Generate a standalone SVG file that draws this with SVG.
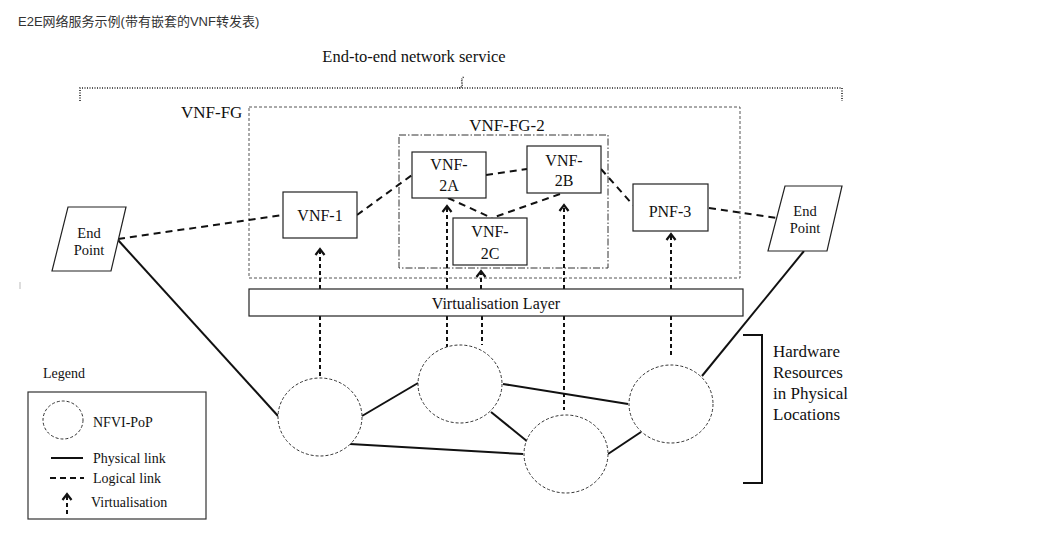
<svg xmlns="http://www.w3.org/2000/svg" width="1053" height="542" viewBox="0 0 1053 542">
<style>
.t{font-family:"Liberation Serif","Times New Roman",serif;fill:#111}
.box{fill:#fff;stroke:#222;stroke-width:1.2}
.phys{stroke:#111;stroke-width:2;fill:none}
.log{stroke:#111;stroke-width:2;stroke-dasharray:7 5;fill:none}
.virt{stroke:#111;stroke-width:2;stroke-dasharray:4 3;fill:none}
.pop{fill:#fff;stroke:#333;stroke-width:1;stroke-dasharray:3 2}
</style>
<defs>
<marker id="ah" markerWidth="10" markerHeight="12" refX="8" refY="6" orient="auto" markerUnits="userSpaceOnUse" viewBox="0 0 10 12">
<path d="M2,1.5 L8,6 L2,10.5" fill="none" stroke="#111" stroke-width="2.2"/>
</marker>
</defs>
<rect width="1053" height="542" fill="#fff"/>
<text x="18" y="26" style="font-family:'Liberation Sans','Noto Sans CJK SC',sans-serif;font-size:13px;fill:#333">E2E网络服务示例(带有嵌套的VNF转发表)</text>
<line x1="20" y1="282" x2="20" y2="289" stroke="#bbb" stroke-width="1"/>

<g id="e2e-service">
<text class="t" x="414" y="62" text-anchor="middle" font-size="16.5">End-to-end network service</text>
<path d="M80,101 L80,88 L842,88 L842,101" fill="none" stroke="#222" stroke-width="1.6" stroke-dasharray="1 1.5"/>
<path d="M459,88 Q463,87 462,83 Q461,78 464,77" fill="none" stroke="#222" stroke-width="1.6" stroke-dasharray="1 1"/>
</g>

<g id="vnf-fg">
<rect x="249" y="107" width="491" height="171" fill="none" stroke="#555" stroke-width="1" stroke-dasharray="3 2"/>
<text class="t" x="181" y="118" font-size="17">VNF-FG</text>
</g>
<g id="vnf-fg-2">
<rect x="399" y="135" width="209" height="133" fill="none" stroke="#333" stroke-width="1" stroke-dasharray="7 2 1.5 2"/>
<text class="t" x="507" y="131" text-anchor="middle" font-size="17">VNF-FG-2</text>
</g>

<g id="connectors">
<!-- logical links -->
<path class="log" d="M118,239 L283,215"/>
<path class="log" d="M357,215 L412,175"/>
<path class="log" d="M486,175 L527,169"/>
<path class="log" d="M448,198 L492,218"/>
<path class="log" d="M560,194 L492,218"/>
<path class="log" d="M601,169 L633,205"/>
<path class="log" d="M709,208 L777,218"/>
<!-- physical links -->
<path class="phys" d="M118,240 L278,416"/>
<path class="phys" d="M362,416 L418,383"/>
<path class="phys" d="M350,444 L523,454"/>
<path class="phys" d="M503,384 L628,404"/>
<path class="phys" d="M491,412 L528,442"/>
<path class="phys" d="M608,454 L641,432"/>
<path class="phys" d="M702,376 L804,251"/>
<!-- virtualisation -->
<path class="virt" d="M320,289 L320,249" marker-end="url(#ah)"/>
<path class="virt" d="M320,316 L320,376"/>
<path class="virt" d="M447,289 L447,206" marker-end="url(#ah)"/>
<path class="virt" d="M447,316 L447,347"/>
<path class="virt" d="M481,289 L481,271" marker-end="url(#ah)"/>
<path class="virt" d="M482,316 L482,345"/>
<path class="virt" d="M564,289 L564,205" marker-end="url(#ah)"/>
<path class="virt" d="M564,316 L564,410"/>
<path class="virt" d="M671,289 L671,234" marker-end="url(#ah)"/>
<path class="virt" d="M671,316 L671,358"/>
</g>

<g id="endpoint-left">
<polygon class="box" points="68,207 126,207 111,271 52,271"/>
<text class="t" x="89" y="238" text-anchor="middle" font-size="14.5">End</text>
<text class="t" x="89" y="255" text-anchor="middle" font-size="14.5">Point</text>
</g>
<g id="endpoint-right">
<polygon class="box" points="785,186 842,186 827,251 768,251"/>
<text class="t" x="805" y="216" text-anchor="middle" font-size="14.5">End</text>
<text class="t" x="805" y="233" text-anchor="middle" font-size="14.5">Point</text>
</g>

<g id="vnf-1">
<rect class="box" x="283" y="192" width="74" height="46"/>
<text class="t" x="320" y="221" text-anchor="middle" font-size="16">VNF-1</text>
</g>
<g id="vnf-2a">
<rect class="box" x="412" y="152" width="74" height="46"/>
<text class="t" x="449" y="170" text-anchor="middle" font-size="16">VNF-</text>
<text class="t" x="449" y="191" text-anchor="middle" font-size="16">2A</text>
</g>
<g id="vnf-2b">
<rect class="box" x="527" y="146" width="74" height="47"/>
<text class="t" x="564" y="166" text-anchor="middle" font-size="16">VNF-</text>
<text class="t" x="564" y="186" text-anchor="middle" font-size="16">2B</text>
</g>
<g id="vnf-2c">
<rect class="box" x="453" y="218" width="74" height="47"/>
<text class="t" x="490" y="237" text-anchor="middle" font-size="16">VNF-</text>
<text class="t" x="490" y="259" text-anchor="middle" font-size="16">2C</text>
</g>
<g id="pnf-3">
<rect class="box" x="633" y="184" width="75" height="47"/>
<text class="t" x="670" y="217" text-anchor="middle" font-size="16">PNF-3</text>
</g>

<g id="virtualisation-layer">
<rect class="box" x="249" y="289" width="494" height="27"/>
<text class="t" x="496" y="309" text-anchor="middle" font-size="16">Virtualisation Layer</text>
</g>

<g id="pop-1"><ellipse class="pop" cx="320" cy="417" rx="42" ry="39"/></g>
<g id="pop-2"><ellipse class="pop" cx="460" cy="384" rx="42" ry="39"/></g>
<g id="pop-3"><ellipse class="pop" cx="566" cy="454" rx="42" ry="39"/></g>
<g id="pop-4"><ellipse class="pop" cx="671" cy="404" rx="42" ry="39"/></g>

<g id="hardware">
<path d="M743,335 L762,335 L762,483 L743,483" fill="none" stroke="#111" stroke-width="2"/>
<text class="t" x="773" y="357" font-size="17">Hardware</text>
<text class="t" x="773" y="378" font-size="17">Resources</text>
<text class="t" x="773" y="399" font-size="17">in Physical</text>
<text class="t" x="773" y="420" font-size="17">Locations</text>
</g>

<g id="legend">
<text class="t" x="43" y="378" font-size="14">Legend</text>
<rect x="28" y="392" width="178" height="127" fill="#fff" stroke="#333" stroke-width="1.2"/>
<ellipse class="pop" cx="63" cy="420" rx="20" ry="19"/>
<text class="t" x="93" y="427" font-size="14">NFVI-PoP</text>
<line x1="51" y1="458" x2="83" y2="458" stroke="#111" stroke-width="2"/>
<text class="t" x="93" y="463" font-size="14">Physical link</text>
<line x1="50" y1="478" x2="84" y2="478" stroke="#111" stroke-width="2" stroke-dasharray="6 4"/>
<text class="t" x="93" y="483" font-size="14">Logical link</text>
<path class="virt" d="M67,514 L67,494" marker-end="url(#ah)"/>
<text class="t" x="91" y="507" font-size="14">Virtualisation</text>
</g>
</svg>
